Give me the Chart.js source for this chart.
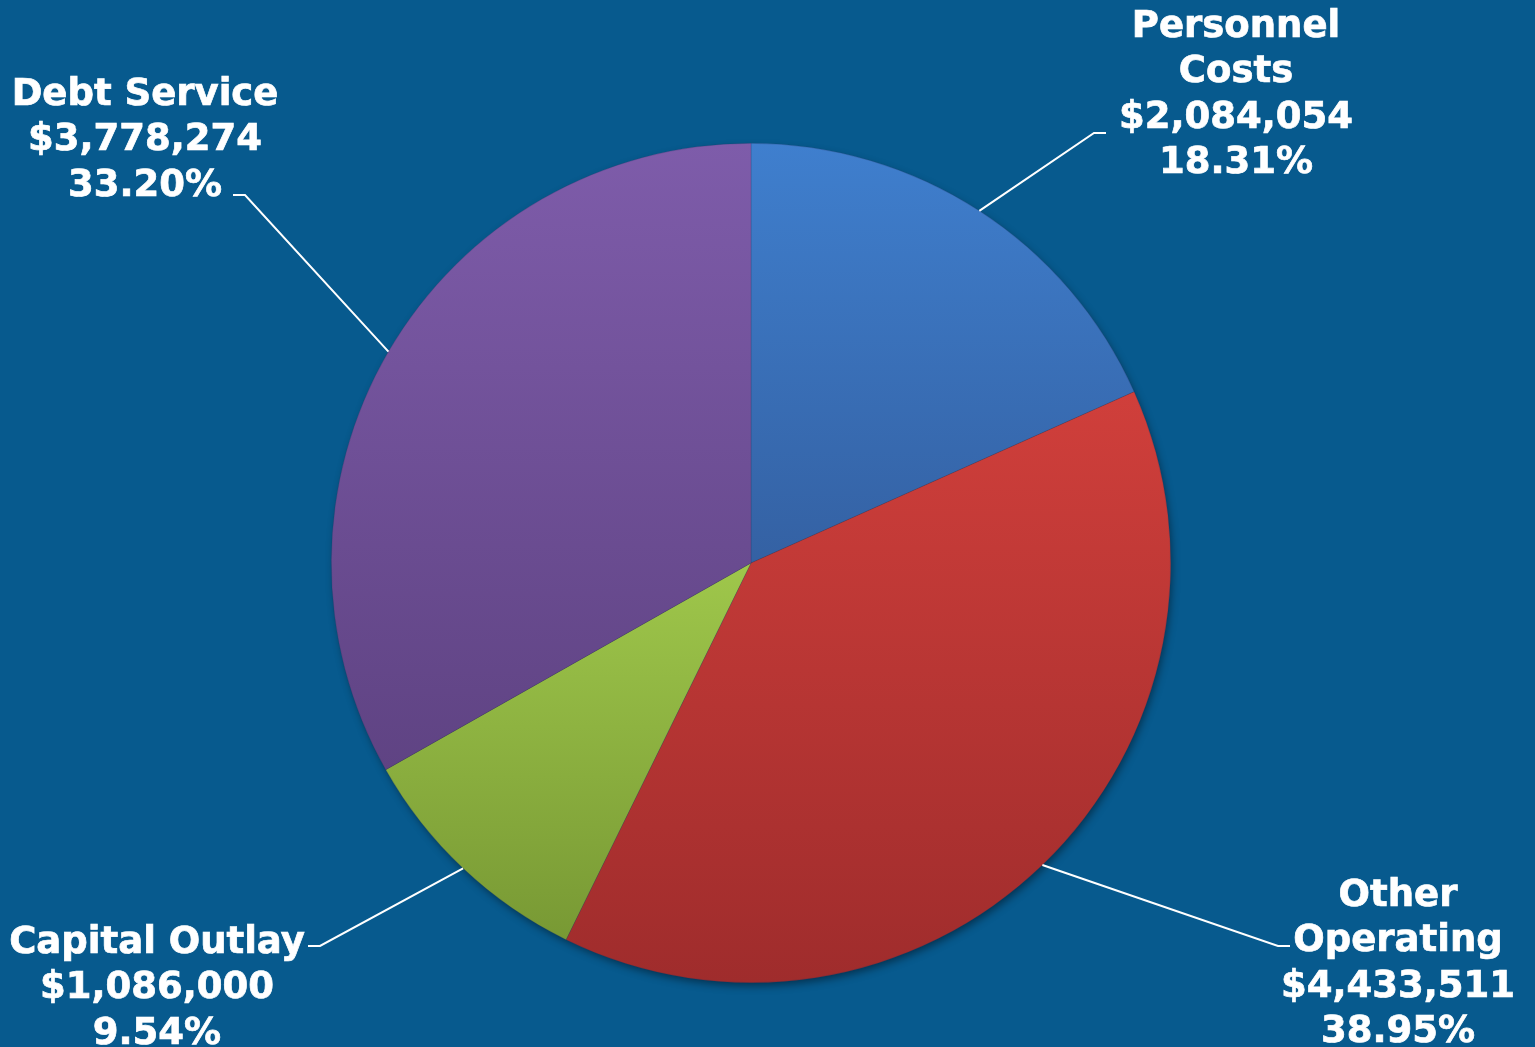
<!DOCTYPE html>
<html>
<head>
<meta charset="utf-8">
<title>Expenditures</title>
<script src="https://cdn.jsdelivr.net/npm/chart.js@4"></script>
<style>
  html, body { margin: 0; padding: 0; background: #075a8e; overflow: hidden; }
  canvas { display: block; }
</style>
</head>
<body>
<canvas id="pieChart" width="1535" height="1047"></canvas>
<script>
const categories = [['Personnel', 'Costs'], ['Other', 'Operating'], ['Capital Outlay'], ['Debt Service']]
const amounts = [2084054, 4433511, 1086000, 3778274]
const percents = ['18.31%', '38.95%', '9.54%', '33.20%']

// slice shading: light at the top of each slice, darker at its bottom
const topColors = ['#3f7fce', '#d03f3b', '#9fc74b', '#7e5caa']
const bottomColors = ['#3461a3', '#9f2c2c', '#789934', '#5f4383']

// where the leader line bends and where the text block sits, relative to the pie centre
const labelSpots = [
  { elbow: [343, -430], dir: 1, text: [485, -536] },
  { elbow: [527, 383], dir: 1, text: [647, 333] },
  { elbow: [-431, 383], dir: -1, text: [-594, 380] },
  { elbow: [-506, -368], dir: -1, text: [-606, -468] }
]

function money(v) {
  return '$' + v.toLocaleString('en-US')
}

// vertical extent of a slice, so each slice gets its own gradient
function sliceGradient(ctx) {
  const chart = ctx.chart
  const i = ctx.dataIndex
  const area = chart.chartArea
  if (!area) return topColors[i]
  const cx = (area.left + area.right) / 2
  const cy = (area.top + area.bottom) / 2
  const r = Math.min(area.right - area.left, area.bottom - area.top) / 2
  const total = amounts.reduce((a, b) => a + b, 0)
  let before = 0
  for (let k = 0; k < i; k++) before += amounts[k]
  const a0 = -Math.PI / 2 + before / total * Math.PI * 2
  const a1 = a0 + amounts[i] / total * Math.PI * 2
  let ys = [cy, cy + r * Math.sin(a0), cy + r * Math.sin(a1)]
  // top of circle at -PI/2 (or 3PI/2), bottom at PI/2
  for (const a of [-Math.PI / 2, Math.PI / 2, Math.PI * 1.5]) {
    if (a >= a0 && a <= a1) ys.push(cy + r * Math.sin(a))
  }
  const top = Math.min(...ys)
  const bottom = Math.max(...ys)
  const g = chart.ctx.createLinearGradient(0, top, 0, bottom)
  g.addColorStop(0, topColors[i])
  g.addColorStop(1, bottomColors[i])
  return g
}

const pieShadow = {
  id: 'pieShadow',
  beforeDatasetsDraw(chart) {
    const arc = chart.getDatasetMeta(0).data[0]
    if (!arc) return
    const ctx = chart.ctx
    ctx.save()
    ctx.shadowColor = 'rgba(0, 0, 0, 0.45)'
    ctx.shadowBlur = 8
    ctx.shadowOffsetX = 2
    ctx.shadowOffsetY = 4
    ctx.fillStyle = '#3a3a3a'
    ctx.beginPath()
    ctx.arc(arc.x, arc.y, arc.outerRadius - 1, 0, Math.PI * 2)
    ctx.fill()
    ctx.restore()
  }
}

const leaderLabels = {
  id: 'leaderLabels',
  afterDatasetsDraw(chart) {
    const ctx = chart.ctx
    const arcs = chart.getDatasetMeta(0).data
    ctx.save()
    arcs.forEach((arc, i) => {
      const spot = labelSpots[i]
      const mid = (arc.startAngle + arc.endAngle) / 2
      const sx = arc.x + arc.outerRadius * Math.cos(mid)
      const sy = arc.y + arc.outerRadius * Math.sin(mid)
      const ex = arc.x + spot.elbow[0]
      const ey = arc.y + spot.elbow[1]

      ctx.strokeStyle = '#ffffff'
      ctx.lineWidth = 2
      ctx.beginPath()
      ctx.moveTo(sx, sy)
      ctx.lineTo(ex, ey)
      ctx.lineTo(ex + spot.dir * 12, ey)
      ctx.stroke()

      const lines = categories[i].concat([money(amounts[i]), percents[i]])
      ctx.fillStyle = '#ffffff'
      ctx.lineWidth = 0.7
      ctx.font = 'bold 37px "DejaVu Sans", Verdana, sans-serif'
      ctx.textAlign = 'center'
      ctx.textBaseline = 'middle'
      lines.forEach((t, n) => {
        const tx = arc.x + spot.text[0]
        const ty = arc.y + spot.text[1] + n * 45.5
        ctx.fillText(t, tx, ty)
        ctx.strokeText(t, tx, ty)
      })
    })
    ctx.restore()
  }
}

const pieCanvas = document.getElementById('pieChart')
const pieChart = new Chart(pieCanvas, {
  type: 'pie',
  data: {
    labels: categories.map(c => c.join(' ')),
    datasets: [{
      data: amounts,
      backgroundColor: sliceGradient,
      borderWidth: 0.6,
      borderColor: 'rgba(40, 50, 90, 0.35)'
    }]
  },
  options: {
    responsive: false,
    animation: false,
    layout: {
      padding: { top: 143, bottom: 64, left: 331, right: 364 }
    },
    plugins: {
      legend: { display: false },
      tooltip: { enabled: false }
    }
  },
  plugins: [pieShadow, leaderLabels]
})
</script>
</body>
</html>
